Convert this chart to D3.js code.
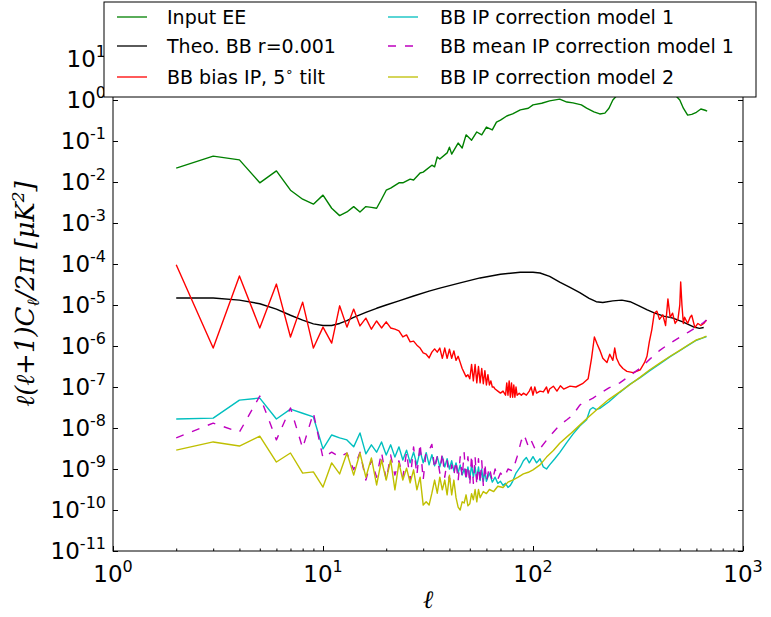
<!DOCTYPE html>
<html>
<head>
<meta charset="utf-8">
<script src="https://cdn.jsdelivr.net/npm/d3@7"></script>
<style>
  body { margin: 0; background: #fff; }
  svg { display: block; }
  text { font-family: "DejaVu Sans", sans-serif; }
</style>
</head>
<body>
<svg id="chart" width="771" height="617"></svg>
<script>
// multipole values and log10 of l(l+1)C_l/2pi

var eeEll = [2, 3, 4, 5, 6, 7, 8, 9, 10, 11, 12, 13, 14, 15, 16, 17, 18, 19, 20, 21, 23, 24, 26, 27, 29, 30,
  33, 34, 35, 36, 39, 40, 41, 44, 46, 48, 51, 54, 57, 60, 64, 67, 70, 75, 80, 87, 95, 100, 110, 120,
  134, 145, 155, 170, 180, 195, 208, 220, 230, 240, 255, 300, 350, 400, 450, 490, 500, 520, 545, 570,
  600, 630, 660, 675];
var eeLog = [-1.66, -1.37, -1.46, -2.02, -1.73, -2.2, -2.42, -2.54, -2.32, -2.64, -2.82, -2.73, -2.6, -2.73,
  -2.6, -2.62, -2.64, -2.42, -2.2, -2.15, -2.02, -2.02, -1.93, -1.95, -1.78, -1.76, -1.59, -1.63, -1.39,
  -1.44, -1.29, -1.15, -1.32, -1.05, -1.17, -0.85, -0.98, -0.78, -0.85, -0.66, -0.73, -0.54, -0.49,
  -0.39, -0.34, -0.24, -0.2, -0.12, -0.08, -0.02, 0.02, -0.05, -0.07, -0.12, -0.2, -0.29, -0.34, -0.32,
  -0.2, 0.0, 0.15, 0.4, 0.5, 0.45, 0.25, 0.05, 0.0, -0.2, -0.37, -0.35, -0.3, -0.22, -0.25, -0.27];

var theoEll = [2, 3, 4, 5, 6, 7, 8, 9, 10, 11, 12, 13, 14, 16, 18, 20, 23, 27, 32, 36, 45, 56, 70, 87, 100,
  108, 120, 134, 150, 167, 185, 200, 215, 240, 265, 290, 320, 350, 380, 420, 464, 520, 578, 620, 650];
var theoLog = [-4.83, -4.83, -4.88, -4.97, -5.1, -5.25, -5.37, -5.46, -5.5, -5.5, -5.45, -5.38, -5.3, -5.18,
  -5.08, -5.0, -4.9, -4.78, -4.66, -4.59, -4.46, -4.34, -4.25, -4.2, -4.2, -4.22, -4.3, -4.44, -4.57,
  -4.7, -4.84, -4.92, -4.94, -4.9, -4.88, -4.92, -5.02, -5.12, -5.2, -5.27, -5.32, -5.42, -5.53, -5.57,
  -5.55];

var biasEll = [2, 3, 4, 5, 6, 7, 8, 9, 10, 11, 12, 13, 14, 15, 16, 17, 18, 19, 20, 21, 22, 23, 24, 25, 26,
  27, 28, 29, 30, 31, 32, 33, 34, 35, 36, 37, 38, 39, 40, 41, 42, 43, 44, 45, 46, 47, 48, 49, 50, 51,
  52, 53, 54, 55, 56, 57, 58, 59, 60, 61, 62, 63, 64, 65, 66, 68, 70, 72, 74, 75, 76, 77, 78, 79, 80,
  81, 82, 83, 84, 86, 88, 90, 93, 96, 98, 100, 102, 104, 108, 112, 116, 118, 120, 125, 130, 135, 140,
  150, 160, 172, 183, 190, 196, 202, 208, 215, 225, 232, 240, 245, 250, 258, 268, 280, 300, 324, 340,
  349, 358, 368, 378, 389, 400, 415, 428, 439, 450, 462, 475, 490, 500, 505, 512, 520, 527, 545, 560,
  570, 590, 610, 630, 650, 670];
var biasLog = [-4.02, -6.05, -4.29, -5.56, -4.49, -5.78, -4.93, -6.05, -5.54, -5.93, -5.02, -5.54, -5.1,
  -5.51, -5.32, -5.59, -5.39, -5.56, -5.41, -5.56, -5.59, -5.63, -5.78, -5.73, -5.9, -5.88, -5.98, -6.05,
  -6.17, -6.2, -6.29, -6.15, -6.07, -6.15, -6.05, -6.3, -6.05, -6.3, -6.08, -6.3, -6.12, -6.35, -6.25,
  -6.4, -6.55, -6.65, -6.75, -6.7, -6.8, -6.45, -6.85, -6.45, -6.9, -6.5, -6.9, -6.55, -6.92, -6.6,
  -6.95, -6.7, -6.95, -6.85, -7.0, -7.0, -7.05, -7.1, -7.15, -7.1, -7.2, -6.9, -7.2, -6.85, -7.25, -6.9,
  -7.25, -6.95, -7.25, -7.0, -7.2, -7.15, -7.2, -7.15, -7.2, -7.1, -7.0, -7.2, -7.0, -7.15, -7.1, -7.12,
  -7.0, -7.15, -7.05, -6.98, -7.1, -6.97, -7.05, -6.98, -7.0, -6.92, -6.8, -6.3, -5.78, -5.95, -6.1,
  -6.3, -6.4, -6.2, -6.35, -6.05, -6.3, -6.45, -6.55, -6.62, -6.65, -6.58, -6.4, -6.25, -5.9, -5.6,
  -5.2, -5.15, -5.35, -5.24, -5.5, -4.85, -5.3, -5.2, -5.45, -5.35, -5.0, -4.44, -5.0, -5.45, -5.3,
  -5.45, -5.3, -5.25, -5.55, -5.45, -5.5, -5.45, -5.37];

var corr1Ell = [2, 3, 4, 5, 6, 7, 8, 9, 10, 11, 12, 13, 14, 15, 16, 17, 18, 19, 20, 21, 22, 23, 24, 25, 26,
  27, 28, 29, 30, 31, 32, 33, 34, 35, 36, 37, 38, 39, 40, 41, 42, 43, 44, 45, 46, 47, 48, 49, 50, 51,
  52, 53, 54, 55, 56, 57, 58, 59, 60, 62, 64, 66, 68, 70, 72, 74, 76, 78, 80, 83, 87, 90, 93, 96, 100,
  104, 108, 112, 116, 120, 127, 134, 145, 155, 167, 180, 187, 193, 200, 208, 230, 259, 290, 324, 360,
  403, 450, 502, 550, 600, 640, 670];
var corr1Log = [-7.78, -7.76, -7.32, -7.27, -7.78, -7.54, -7.64, -7.73, -8.51, -8.17, -8.24, -8.29, -8.46,
  -8.12, -8.63, -8.41, -8.59, -8.34, -8.66, -8.41, -8.71, -8.46, -8.78, -8.54, -8.85, -8.59, -8.9, -8.55,
  -8.85, -8.6, -8.9, -8.65, -8.92, -8.7, -8.95, -8.7, -8.95, -8.75, -9.0, -8.8, -9.05, -8.85, -9.1, -8.9,
  -9.15, -9.0, -9.2, -8.95, -9.25, -8.9, -9.2, -8.95, -9.25, -8.95, -9.28, -9.0, -9.3, -9.05, -9.3, -9.1,
  -9.32, -9.2, -9.35, -9.3, -9.4, -9.35, -9.45, -9.4, -9.3, -9.1, -8.95, -8.8, -8.72, -8.85, -8.7, -8.85,
  -8.75, -8.95, -9.0, -8.9, -8.75, -8.6, -8.35, -8.15, -7.95, -7.8, -7.55, -7.5, -7.55, -7.52, -7.36,
  -7.13, -6.93, -6.77, -6.6, -6.43, -6.26, -6.11, -5.98, -5.86, -5.81, -5.77];

var meanEll = [2, 3, 4, 5, 6, 7, 8, 9, 10, 11, 12, 13, 14, 15, 16, 17, 18, 19, 20, 21, 22, 23, 24, 25, 26,
  27, 28, 29, 30, 31, 32, 33, 34, 35, 36, 37, 38, 39, 40, 41, 42, 43, 44, 45, 46, 47, 48, 49, 50, 51,
  52, 53, 54, 55, 56, 57, 58, 59, 60, 62, 64, 66, 68, 70, 73, 76, 80, 84, 86, 88, 90, 92, 95, 98, 102,
  106, 110, 116, 124, 134, 145, 155, 167, 180, 193, 208, 230, 259, 290, 324, 360, 403, 450, 502, 550,
  600, 640, 670];
var meanLog = [-8.24, -7.88, -8.1, -7.22, -8.29, -7.51, -8.49, -7.63, -8.73, -8.59, -8.71, -8.61, -9.02,
  -8.59, -9.27, -8.78, -9.2, -8.59, -9.27, -8.66, -9.15, -8.8, -9.2, -8.59, -9.27, -8.46, -9.15, -8.37,
  -9.27, -8.54, -8.54, -8.4, -9.0, -8.7, -9.1, -8.6, -9.2, -8.8, -9.3, -8.9, -9.15, -8.8, -9.3, -8.7,
  -9.2, -8.6, -9.3, -8.7, -9.4, -8.65, -9.35, -8.7, -9.4, -8.75, -9.35, -8.8, -9.4, -8.85, -9.3, -8.95,
  -9.3, -9.0, -9.25, -9.1, -9.2, -9.0, -9.05, -8.7, -8.5, -8.3, -8.4, -8.25, -8.45, -8.3, -8.5, -8.55,
  -8.45, -8.3, -8.12, -7.93, -7.8, -7.68, -7.44, -7.35, -7.27, -7.16, -7.02, -6.9, -6.72, -6.54, -6.32,
  -6.1, -5.93, -5.78, -5.66, -5.54, -5.45, -5.37];

var corr2Ell = [2, 3, 4, 5, 6, 7, 8, 9, 10, 11, 12, 13, 14, 15, 16, 17, 18, 19, 20, 21, 22, 23, 24, 25, 26,
  27, 28, 29, 30, 31, 32, 33, 34, 35, 36, 37, 38, 39, 40, 41, 42, 43, 44, 45, 46, 47, 48, 49, 50, 51,
  52, 53, 54, 55, 56, 58, 60, 62, 65, 68, 72, 76, 80, 85, 90, 95, 100, 108, 116, 125, 134, 150, 167,
  185, 208, 230, 259, 290, 324, 360, 403, 450, 502, 550, 600, 640, 670];
var corr2Log = [-8.54, -8.34, -8.44, -8.2, -8.83, -8.61, -9.1, -9.07, -9.44, -8.85, -9.12, -8.61, -9.15,
  -8.61, -9.2, -8.73, -9.39, -8.78, -9.27, -8.78, -9.51, -8.85, -9.27, -8.98, -9.34, -9.02, -9.51, -9.2,
  -9.88, -9.8, -9.88, -9.59, -9.27, -9.59, -9.2, -9.51, -9.27, -9.63, -9.15, -9.63, -9.27, -9.7, -9.93,
  -10.0, -9.8, -9.83, -9.63, -9.9, -9.85, -9.6, -9.75, -9.5, -9.8, -9.5, -9.7, -9.55, -9.6, -9.5, -9.55,
  -9.42, -9.45, -9.32, -9.27, -9.2, -9.12, -9.08, -9.02, -8.9, -8.71, -8.55, -8.37, -8.15, -7.93, -7.72,
  -7.49, -7.3, -7.12, -6.94, -6.76, -6.58, -6.41, -6.25, -6.1, -5.97, -5.85, -5.8, -5.76];

var legendLabels = ['Input EE', 'Theo. BB r=0.001', 'BB bias IP, 5\u00b0 tilt',
  'BB IP correction model 1', 'BB mean IP correction model 1', 'BB IP correction model 2'];
var xMajor = [1, 10, 100, 1000];
var xMinor = [2, 3, 4, 5, 6, 7, 8, 9, 20, 30, 40, 50, 60, 70, 80, 90, 200, 300, 400, 500, 600, 700, 800, 900];
var yExponents = [-11, -10, -9, -8, -7, -6, -5, -4, -3, -2, -1, 0, 1];

var series = [
  {ell: eeEll, log: eeLog, color: '#008000', dash: null},
  {ell: theoEll, log: theoLog, color: '#000000', dash: null},
  {ell: biasEll, log: biasLog, color: '#ff0000', dash: null},
  {ell: corr1Ell, log: corr1Log, color: '#00bfbf', dash: null},
  {ell: meanEll, log: meanLog, color: '#bf00bf', dash: '8,9'},
  {ell: corr2Ell, log: corr2Log, color: '#bfbf00', dash: null}
];

var svg = d3.select('#chart');
// 41px per decade, 10^0 at y=100; top of the axes sits under the legend
var yTopValue = Math.pow(10, 1.6);
var plotLeft = 113, plotRight = 743, plotBottom = 551, plotTop = 100 - 1.6 * 41;

var x = d3.scaleLog().domain([1, 1000]).range([plotLeft, plotRight]);
var y = d3.scaleLog().domain([1e-11, yTopValue]).range([plotBottom, plotTop]);

svg.append('clipPath').attr('id', 'plotclip')
  .append('rect')
    .attr('x', plotLeft).attr('y', plotTop)
    .attr('width', plotRight - plotLeft).attr('height', plotBottom - plotTop);

var line = d3.line()
    .x(function(d) { return x(d[0]); })
    .y(function(d) { return y(d[1]); });

var plot = svg.append('g').attr('clip-path', 'url(#plotclip)');

series.forEach(function(s) {
  var pts = s.ell.map(function(l, i) { return [l, Math.pow(10, s.log[i])]; });
  plot.append('path')
      .datum(pts)
      .attr('d', line)
      .style('fill', 'none')
      .style('stroke', s.color)
      .style('stroke-width', '1.4px')
      .style('stroke-dasharray', s.dash)
      .style('stroke-linejoin', 'round');
});

// ticks point inwards on all four sides
function tickAxis(axisFn, scale, values, size, transform) {
  svg.append('g')
      .attr('transform', transform)
      .call(axisFn(scale).tickValues(values).tickSizeInner(size).tickSizeOuter(0).tickFormat(''))
      .call(function(g) { g.select('.domain').remove(); })
      .selectAll('line').attr('stroke', '#000');
}
var yMajor = yExponents.map(function(e) { return Math.pow(10, e); });
tickAxis(d3.axisBottom, x, xMajor, -5, 'translate(0,' + plotBottom + ')');
tickAxis(d3.axisBottom, x, xMinor, -2.5, 'translate(0,' + plotBottom + ')');
tickAxis(d3.axisTop, x, xMajor, -5, 'translate(0,' + plotTop + ')');
tickAxis(d3.axisTop, x, xMinor, -2.5, 'translate(0,' + plotTop + ')');
tickAxis(d3.axisLeft, y, yMajor, -5, 'translate(' + plotLeft + ',0)');
tickAxis(d3.axisRight, y, yMajor, -5, 'translate(' + plotRight + ',0)');

svg.append('rect')
    .attr('x', plotLeft).attr('y', plotTop)
    .attr('width', plotRight - plotLeft).attr('height', plotBottom - plotTop)
    .style('fill', 'none').style('stroke', '#000').style('stroke-width', '1px');

// tick labels as 10^n
xMajor.forEach(function(v, i) {
  var t = svg.append('text')
      .attr('x', x(v)).attr('y', 582)
      .attr('text-anchor', 'middle')
      .style('font-size', '23px');
  t.append('tspan').text('10');
  t.append('tspan').attr('dy', -10).style('font-size', '16px').text(String(i));
});

yExponents.forEach(function(e) {
  var t = svg.append('text')
      .attr('x', 106).attr('y', y(Math.pow(10, e)) + 8)
      .attr('text-anchor', 'end')
      .style('font-size', '23px');
  t.append('tspan').text('10');
  t.append('tspan').attr('dy', -10).style('font-size', '16px').text(String(e));
});

// axis titles
var ylab = svg.append('text')
    .attr('transform', 'translate(34,294) rotate(-90)')
    .attr('text-anchor', 'middle')
    .style('font-family', '"DejaVu Serif", serif')
    .style('font-style', 'italic')
    .style('font-size', '26px');
ylab.append('tspan').text('\u2113(\u2113+1)C');
ylab.append('tspan').attr('dy', 5).style('font-size', '17px').text('\u2113');
ylab.append('tspan').attr('dy', -5).text('/2\u03c0 [\u03bcK');
ylab.append('tspan').attr('dy', -10).style('font-size', '17px').text('2');
ylab.append('tspan').attr('dy', 10).text(']');

svg.append('text')
    .attr('x', x(31.6)).attr('y', 608)
    .attr('text-anchor', 'middle')
    .style('font-family', '"DejaVu Serif", serif')
    .style('font-style', 'italic')
    .style('font-size', '25px')
    .text('\u2113');

// legend
var legend = svg.append('g');
legend.append('rect')
    .attr('x', 104).attr('y', 2)
    .attr('width', 652).attr('height', 95)
    .style('fill', '#fff').style('stroke', '#000').style('stroke-width', '1px');

var legendRows = [17, 46, 77];
var legendCols = [{line: 117, text: 167}, {line: 388, text: 440}];

series.forEach(function(s, i) {
  var col = legendCols[Math.floor(i / 3)], ry = legendRows[i % 3];
  legend.append('line')
      .attr('x1', col.line).attr('x2', col.line + 30)
      .attr('y1', ry).attr('y2', ry)
      .style('stroke', s.color)
      .style('stroke-width', '1.3px')
      .style('stroke-dasharray', s.dash);
  var t = legend.append('text')
      .attr('x', col.text).attr('y', ry + 7)
      .style('font-size', '19px');
  if (i === 2) {
    t.append('tspan').text('BB bias IP, 5');
    t.append('tspan').attr('dy', -8).style('font-size', '13px').text('\u2218');
    t.append('tspan').attr('dy', 8).text(' tilt');
  } else {
    t.text(legendLabels[i]);
  }
});
</script>
</body>
</html>
